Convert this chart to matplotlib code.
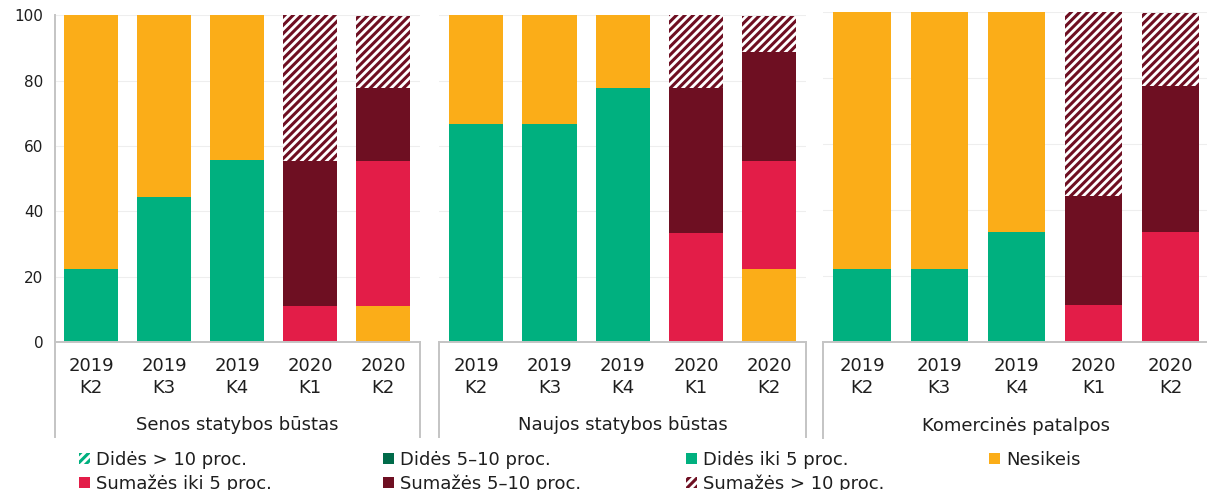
import matplotlib
matplotlib.use('Agg')
import matplotlib.pyplot as plt
from matplotlib.patches import Patch
import numpy as np

# Ketvirčiai ir sektoriai
quarters = ['2019\nK2', '2019\nK3', '2019\nK4', '2020\nK1', '2020\nK2']
sectors = ['Senos statybos būstas', 'Naujos statybos būstas', 'Komercinės patalpos']

# Atsakymų dalys (%), kiekvienam sektoriui po 5 ketvirčius
dides_10 = [[0, 0, 0, 0, 0], [0, 0, 0, 0, 0], [0, 0, 0, 0, 0]]
dides_5_10 = [[0, 0, 0, 0, 0], [0, 0, 0, 0, 0], [0, 0, 0, 0, 0]]
dides_iki5 = [[22.2, 44.4, 55.6, 0, 0],
              [66.7, 66.7, 77.8, 0, 0],
              [22.2, 22.2, 33.3, 0, 0]]
nesikeis = [[77.8, 55.6, 44.4, 0, 11.1],
            [33.3, 33.3, 22.2, 0, 22.2],
            [77.8, 77.8, 66.7, 0, 0]]
sumazes_iki5 = [[0, 0, 0, 11.1, 44.4],
                [0, 0, 0, 33.3, 33.3],
                [0, 0, 0, 11.1, 33.3]]
sumazes_5_10 = [[0, 0, 0, 44.4, 22.2],
                [0, 0, 0, 44.4, 33.3],
                [0, 0, 0, 33.3, 44.4]]
sumazes_10 = [[0, 0, 0, 44.5, 22.2],
              [0, 0, 0, 22.3, 11.1],
              [0, 0, 0, 55.6, 22.2]]

C_GREEN_DARK = '#006b4a'
C_GREEN = '#00b07f'
C_ORANGE = '#fbad18'
C_RED = '#e31d48'
C_MAROON = '#6e0f22'
TEXT = '#1e1e1e'
AXIS = '#c4c4c4'
FS = 13

plt.rcParams['font.family'] = 'sans-serif'
plt.rcParams['font.sans-serif'] = ['DejaVu Sans']
plt.rcParams['hatch.linewidth'] = 2.2

# (pavadinimas, duomenys, spalva, brūkšniavimas)
series = [
    ('Didės > 10 proc.', dides_10, C_GREEN, '////'),
    ('Didės 5–10 proc.', dides_5_10, C_GREEN_DARK, None),
    ('Didės iki 5 proc.', dides_iki5, C_GREEN, None),
    ('Nesikeis', nesikeis, C_ORANGE, None),
    ('Sumažės iki 5 proc.', sumazes_iki5, C_RED, None),
    ('Sumažės 5–10 proc.', sumazes_5_10, C_MAROON, None),
    ('Sumažės > 10 proc.', sumazes_10, C_MAROON, '////'),
]

fig = plt.figure(figsize=(12.07, 4.9), dpi=100)
panels = [
    [0.0452, 0.302, 0.3024, 0.667],
    [0.3641, 0.302, 0.3036, 0.667],
    [0.6822, 0.302, 0.3198, 0.673],
]

x = np.arange(len(quarters))
for i, rect in enumerate(panels):
    ax = fig.add_axes(rect)
    bottom = np.zeros(len(quarters))
    for name, data, color, hatch in series:
        vals = np.array(data[i], dtype=float)
        if hatch:
            ax.bar(x, vals, 0.74, bottom=bottom, facecolor='white',
                   edgecolor=color, hatch=hatch, linewidth=0)
        else:
            ax.bar(x, vals, 0.74, bottom=bottom, color=color, linewidth=0)
        bottom += vals

    ax.set_xlim(-0.5, 4.5)
    ax.set_ylim(0, 100)
    ax.set_yticks(range(0, 101, 20))
    ax.yaxis.grid(True, color='#eeeeee', linewidth=0.8)
    ax.set_axisbelow(True)
    ax.set_xticks(x)
    ax.set_xticklabels(quarters, fontsize=FS, color=TEXT, linespacing=1.3)
    ax.tick_params(axis='x', length=0, pad=11)
    ax.tick_params(axis='y', length=0, pad=8, labelsize=11, labelcolor=TEXT)
    if i > 0:
        ax.set_yticklabels([])
    for s in ['top', 'right', 'left']:
        ax.spines[s].set_visible(False)
    ax.spines['bottom'].set_color(AXIS)
    ax.spines['bottom'].set_linewidth(1.4)

    # grupių skirtukai po ašimi
    top = 1.0 if i == 0 else 0.0
    ax.plot([0, 0], [-0.29, top], transform=ax.transAxes, color=AXIS,
            lw=1.4, clip_on=False)
    ax.plot([1, 1], [-0.29, 0], transform=ax.transAxes, color=AXIS,
            lw=1.4, clip_on=False)
    ax.text(0.5, -0.255, sectors[i], transform=ax.transAxes, ha='center',
            va='center', fontsize=FS, color=TEXT)

# legenda: 4 stulpeliai po 2 eilutes
handles = []
for name, data, color, hatch in series:
    if hatch:
        handles.append(Patch(facecolor='white', edgecolor=color, hatch=hatch,
                             linewidth=0, label=name))
    else:
        handles.append(Patch(facecolor=color, linewidth=0, label=name))

cols = [[handles[0], handles[4]], [handles[1], handles[5]],
        [handles[2], handles[6]], [handles[3]]]
col_x = [0.0655, 0.3175, 0.5685, 0.8195]
for hs, cx in zip(cols, col_x):
    leg = fig.legend(handles=hs, loc='upper left', bbox_to_anchor=(cx, 0.08),
                     frameon=False, fontsize=FS, handlelength=0.6,
                     handleheight=0.6, handletextpad=0.35, labelspacing=0.3,
                     borderaxespad=0, borderpad=0)
    for t in leg.get_texts():
        t.set_color(TEXT)

fig.savefig('out.png', dpi=100, facecolor='white')
